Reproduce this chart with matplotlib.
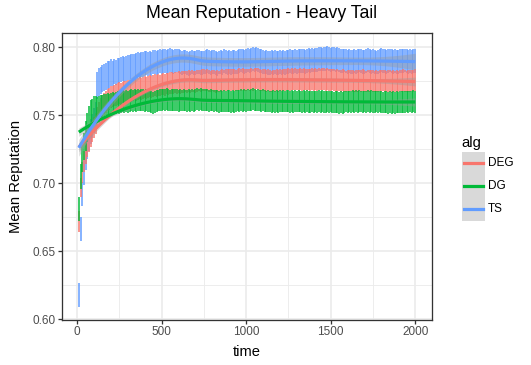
import numpy as np
import matplotlib
matplotlib.use("Agg")
import matplotlib.pyplot as plt
from matplotlib.patches import Rectangle
from matplotlib.lines import Line2D

plt.rcParams['font.family'] = ['Liberation Sans', 'DejaVu Sans']

# ---------------- data ----------------
time = list(range(10, 2001, 10))
algs = ["DEG", "DG", "TS"]
colors = {"DEG": "#F8766D", "DG": "#00BA38", "TS": "#619CFF"}

mean_ts = [
    0.6180, 0.6665, 0.6920, 0.7080, 0.7190, 0.7270, 0.7330, 0.7380, 0.7420, 0.7460, 0.7500, 0.7720, 0.7745, 0.7758, 0.7770, 0.7776, 0.7788, 0.7796, 0.7800, 0.7812,
    0.7808, 0.7822, 0.7818, 0.7830, 0.7826, 0.7835, 0.7842, 0.7836, 0.7845, 0.7852, 0.7848, 0.7856, 0.7862, 0.7855, 0.7864, 0.7871, 0.7866, 0.7874, 0.7870, 0.7879,
    0.7882, 0.7876, 0.7885, 0.7880, 0.7889, 0.7893, 0.7886, 0.7892, 0.7897, 0.7890, 0.7898, 0.7902, 0.7894, 0.7899, 0.7905, 0.7897, 0.7891, 0.7899, 0.7903, 0.7896,
    0.7892, 0.7887, 0.7895, 0.7889, 0.7884, 0.7880, 0.7887, 0.7893, 0.7885, 0.7881, 0.7889, 0.7894, 0.7886, 0.7882, 0.7888, 0.7892, 0.7897, 0.7890, 0.7885, 0.7889,
    0.7893, 0.7884, 0.7880, 0.7888, 0.7893, 0.7887, 0.7896, 0.7891, 0.7886, 0.7890, 0.7883, 0.7889, 0.7894, 0.7888, 0.7892, 0.7899, 0.7903, 0.7896, 0.7891, 0.7898,
    0.7904, 0.7900, 0.7907, 0.7912, 0.7909, 0.7914, 0.7906, 0.7901, 0.7897, 0.7892, 0.7888, 0.7893, 0.7887, 0.7884, 0.7890, 0.7886, 0.7891, 0.7887, 0.7883, 0.7889,
    0.7885, 0.7891, 0.7886, 0.7893, 0.7889, 0.7896, 0.7890, 0.7895, 0.7899, 0.7894, 0.7900, 0.7896, 0.7902, 0.7898, 0.7893, 0.7899, 0.7904, 0.7900, 0.7907, 0.7903,
    0.7908, 0.7904, 0.7911, 0.7915, 0.7910, 0.7916, 0.7912, 0.7918, 0.7913, 0.7909, 0.7915, 0.7911, 0.7907, 0.7912, 0.7906, 0.7902, 0.7897, 0.7903, 0.7898, 0.7894,
    0.7899, 0.7895, 0.7891, 0.7897, 0.7892, 0.7898, 0.7903, 0.7896, 0.7891, 0.7895, 0.7900, 0.7904, 0.7898, 0.7894, 0.7899, 0.7893, 0.7888, 0.7894, 0.7899, 0.7905,
    0.7901, 0.7896, 0.7892, 0.7898, 0.7903, 0.7897, 0.7893, 0.7899, 0.7894, 0.7890, 0.7896, 0.7901, 0.7897, 0.7903, 0.7898, 0.7894, 0.7899, 0.7895, 0.7900, 0.7897,
]
err_ts = [0.0090] * 10 + [0.0100] * 10 + [0.0092] * 20 + [0.0088] * 160

mean_deg = [
    0.6720, 0.6970, 0.7080, 0.7160, 0.7220, 0.7270, 0.7310, 0.7350, 0.7380, 0.7410, 0.7440, 0.7480, 0.7520, 0.7548, 0.7568, 0.7586, 0.7597, 0.7612, 0.7620, 0.7633,
    0.7638, 0.7646, 0.7650, 0.7657, 0.7662, 0.7659, 0.7668, 0.7673, 0.7669, 0.7677, 0.7682, 0.7678, 0.7687, 0.7691, 0.7686, 0.7694, 0.7699, 0.7695, 0.7702, 0.7706,
    0.7701, 0.7709, 0.7713, 0.7708, 0.7716, 0.7720, 0.7715, 0.7723, 0.7719, 0.7727, 0.7731, 0.7725, 0.7733, 0.7729, 0.7736, 0.7740, 0.7734, 0.7741, 0.7737, 0.7744,
    0.7739, 0.7746, 0.7742, 0.7749, 0.7745, 0.7751, 0.7747, 0.7753, 0.7748, 0.7744, 0.7750, 0.7755, 0.7751, 0.7757, 0.7762, 0.7756, 0.7760, 0.7754, 0.7749, 0.7755,
    0.7751, 0.7747, 0.7753, 0.7748, 0.7754, 0.7759, 0.7755, 0.7761, 0.7757, 0.7763, 0.7758, 0.7764, 0.7760, 0.7756, 0.7762, 0.7767, 0.7761, 0.7766, 0.7762, 0.7758,
    0.7763, 0.7759, 0.7765, 0.7761, 0.7766, 0.7771, 0.7765, 0.7760, 0.7756, 0.7761, 0.7757, 0.7752, 0.7758, 0.7754, 0.7749, 0.7755, 0.7751, 0.7757, 0.7753, 0.7759,
    0.7755, 0.7761, 0.7757, 0.7763, 0.7768, 0.7762, 0.7767, 0.7763, 0.7769, 0.7764, 0.7760, 0.7766, 0.7762, 0.7767, 0.7763, 0.7758, 0.7764, 0.7760, 0.7765, 0.7761,
    0.7766, 0.7762, 0.7768, 0.7764, 0.7769, 0.7765, 0.7761, 0.7766, 0.7762, 0.7757, 0.7763, 0.7759, 0.7754, 0.7760, 0.7756, 0.7751, 0.7757, 0.7753, 0.7749, 0.7755,
    0.7751, 0.7756, 0.7752, 0.7748, 0.7754, 0.7750, 0.7755, 0.7751, 0.7757, 0.7753, 0.7749, 0.7754, 0.7750, 0.7756, 0.7752, 0.7748, 0.7753, 0.7749, 0.7755, 0.7751,
    0.7756, 0.7752, 0.7748, 0.7754, 0.7750, 0.7746, 0.7752, 0.7748, 0.7753, 0.7749, 0.7755, 0.7751, 0.7757, 0.7753, 0.7749, 0.7754, 0.7750, 0.7756, 0.7752, 0.7757,
]
err_deg = [0.0080, 0.0070] + [0.0080] * 198

mean_dg = [
    0.6810, 0.7050, 0.7180, 0.7270, 0.7350, 0.7410, 0.7460, 0.7500, 0.7520, 0.7540, 0.7550, 0.7556, 0.7562, 0.7566, 0.7571, 0.7575, 0.7579, 0.7583, 0.7580, 0.7587,
    0.7590, 0.7586, 0.7593, 0.7597, 0.7592, 0.7599, 0.7603, 0.7598, 0.7604, 0.7600, 0.7606, 0.7610, 0.7605, 0.7611, 0.7607, 0.7613, 0.7608, 0.7614, 0.7610, 0.7606,
    0.7612, 0.7607, 0.7602, 0.7597, 0.7593, 0.7598, 0.7603, 0.7608, 0.7614, 0.7610, 0.7616, 0.7612, 0.7617, 0.7613, 0.7609, 0.7614, 0.7610, 0.7615, 0.7611, 0.7607,
    0.7612, 0.7608, 0.7613, 0.7609, 0.7605, 0.7610, 0.7606, 0.7611, 0.7607, 0.7612, 0.7617, 0.7613, 0.7618, 0.7614, 0.7610, 0.7615, 0.7611, 0.7607, 0.7612, 0.7608,
    0.7604, 0.7609, 0.7605, 0.7600, 0.7605, 0.7601, 0.7606, 0.7602, 0.7607, 0.7603, 0.7599, 0.7604, 0.7600, 0.7605, 0.7609, 0.7605, 0.7610, 0.7606, 0.7611, 0.7607,
    0.7612, 0.7608, 0.7613, 0.7617, 0.7612, 0.7608, 0.7613, 0.7609, 0.7605, 0.7610, 0.7606, 0.7601, 0.7606, 0.7602, 0.7598, 0.7603, 0.7599, 0.7604, 0.7600, 0.7605,
    0.7601, 0.7606, 0.7602, 0.7607, 0.7603, 0.7599, 0.7604, 0.7600, 0.7605, 0.7601, 0.7606, 0.7602, 0.7598, 0.7603, 0.7599, 0.7604, 0.7600, 0.7596, 0.7601, 0.7597,
    0.7602, 0.7598, 0.7603, 0.7599, 0.7604, 0.7600, 0.7596, 0.7601, 0.7597, 0.7602, 0.7598, 0.7594, 0.7599, 0.7595, 0.7591, 0.7596, 0.7592, 0.7597, 0.7601, 0.7597,
    0.7602, 0.7598, 0.7603, 0.7599, 0.7604, 0.7600, 0.7605, 0.7601, 0.7597, 0.7602, 0.7598, 0.7603, 0.7599, 0.7604, 0.7600, 0.7596, 0.7601, 0.7597, 0.7602, 0.7598,
    0.7594, 0.7599, 0.7595, 0.7591, 0.7596, 0.7592, 0.7597, 0.7593, 0.7598, 0.7594, 0.7599, 0.7595, 0.7600, 0.7596, 0.7601, 0.7597, 0.7602, 0.7598, 0.7603, 0.7599,
]
err_dg = [0.009, 0.009, 0.010, 0.010, 0.011, 0.011, 0.011, 0.011, 0.010, 0.010, 0.009] + [0.0080] * 189

series = {"DEG": (mean_deg, err_deg), "DG": (mean_dg, err_dg), "TS": (mean_ts, err_ts)}

x_ticks = [0, 500, 1000, 1500, 2000]
y_ticks = [0.60, 0.65, 0.70, 0.75, 0.80]
y_tick_labels = ["0.60", "0.65", "0.70", "0.75", "0.80"]


# ---------------- loess (like geom_smooth default) ----------------
def loess(x, y, xnew, span=0.75):
    x = np.asarray(x, float); y = np.asarray(y, float)
    n = len(x)
    q = int(np.floor(span * n))

    def row(x0):
        d = np.abs(x - x0)
        h = np.sort(d)[q - 1]
        u = np.clip(d / h, 0, 1)
        w = (1 - u ** 3) ** 3
        X = np.column_stack([np.ones(n), x - x0, (x - x0) ** 2])
        A = X.T @ (w[:, None] * X)
        return np.linalg.solve(A, (X * w[:, None]).T)[0]

    Lfull = np.array([row(x0) for x0 in x])
    fitted = Lfull @ y
    resid = y - fitted
    d1 = n - np.trace(Lfull)
    sigma = np.sqrt(np.sum(resid ** 2) / d1)
    Lnew = np.array([row(x0) for x0 in xnew])
    pred = Lnew @ y
    se = sigma * np.sqrt(np.sum(Lnew ** 2, axis=1))
    return pred, 1.97 * se


# ---------------- figure (pixel-based sizes, 72 dpi) ----------------
W, H = 531, 365
fig = plt.figure(figsize=(W / 72, H / 72), dpi=72)
L_, R_, T_, B_ = 62, 432, 33, 320
ax = fig.add_axes([L_ / W, 1 - B_ / H, (R_ - L_) / W, (B_ - T_) / H])

ax.set_xlim(-89.5, 2099.5)
ax.set_ylim(0.5995, 0.8105)

for s in ax.spines.values():
    s.set_color("#333333")
    s.set_linewidth(1.3)

ax.set_xticks(x_ticks)
ax.set_xticklabels([str(v) for v in x_ticks])
ax.set_yticks(y_ticks)
ax.set_yticklabels(y_tick_labels)
ax.set_xticks([250, 750, 1250, 1750], minor=True)
ax.set_yticks([0.625, 0.675, 0.725, 0.775], minor=True)
ax.tick_params(axis="both", which="major", length=3.7, width=1.3, color="#333333",
               labelsize=11.7, labelcolor="#4D4D4D", pad=2.5)
ax.tick_params(axis="both", which="minor", length=0)
ax.grid(True, which="major", color="#EBEBEB", linewidth=1.6)
ax.grid(True, which="minor", color="#EBEBEB", linewidth=0.9)
ax.set_axisbelow(True)

t = np.asarray(time, float)
for a in ["TS", "DEG", "DG"]:
    m, e = series[a]
    ax.errorbar(t, m, yerr=e, fmt="none", ecolor=colors[a], elinewidth=1.5,
                capsize=0, zorder=2)

xs = np.linspace(t.min(), t.max(), 80)
for a in algs:
    m, e = series[a]
    pred, band = loess(t, m, xs)
    ax.fill_between(xs, pred - band, pred + band, color="#999999", alpha=0.4,
                    linewidth=0, zorder=3)
    ax.plot(xs, pred, color=colors[a], linewidth=3.2, zorder=4, solid_capstyle="butt")

def fx(px): return px / W
def fy(py): return 1 - py / H

fig.text(fx(247), fy(352), "time", fontsize=14.7, ha="center", va="center")
fig.text(fx(16), fy(176), "Mean Reputation", fontsize=14.7, ha="center", va="center",
         rotation=90)
fig.text(fx(262), fy(14), "Mean Reputation - Heavy Tail",
         ha="center", va="center", fontsize=17.6, color="black")

# ---------------- legend ----------------
fig.text(fx(461), fy(143), "alg", fontsize=14.7, ha="left", va="center")
fig.add_artist(Rectangle((fx(462), fy(221)), (485 - 462) / W, (221 - 152) / H,
                         facecolor="#D9D9D9", edgecolor="none",
                         transform=fig.transFigure))
for i, a in enumerate(algs):
    yy = 163 + i * 23
    fig.add_artist(Line2D([fx(464), fx(483)], [fy(yy), fy(yy)], color=colors[a],
                          linewidth=3.2, transform=fig.transFigure))
    fig.text(fx(488), fy(yy), a, fontsize=11.7, ha="left", va="center")

fig.savefig("out.png", dpi=72)
